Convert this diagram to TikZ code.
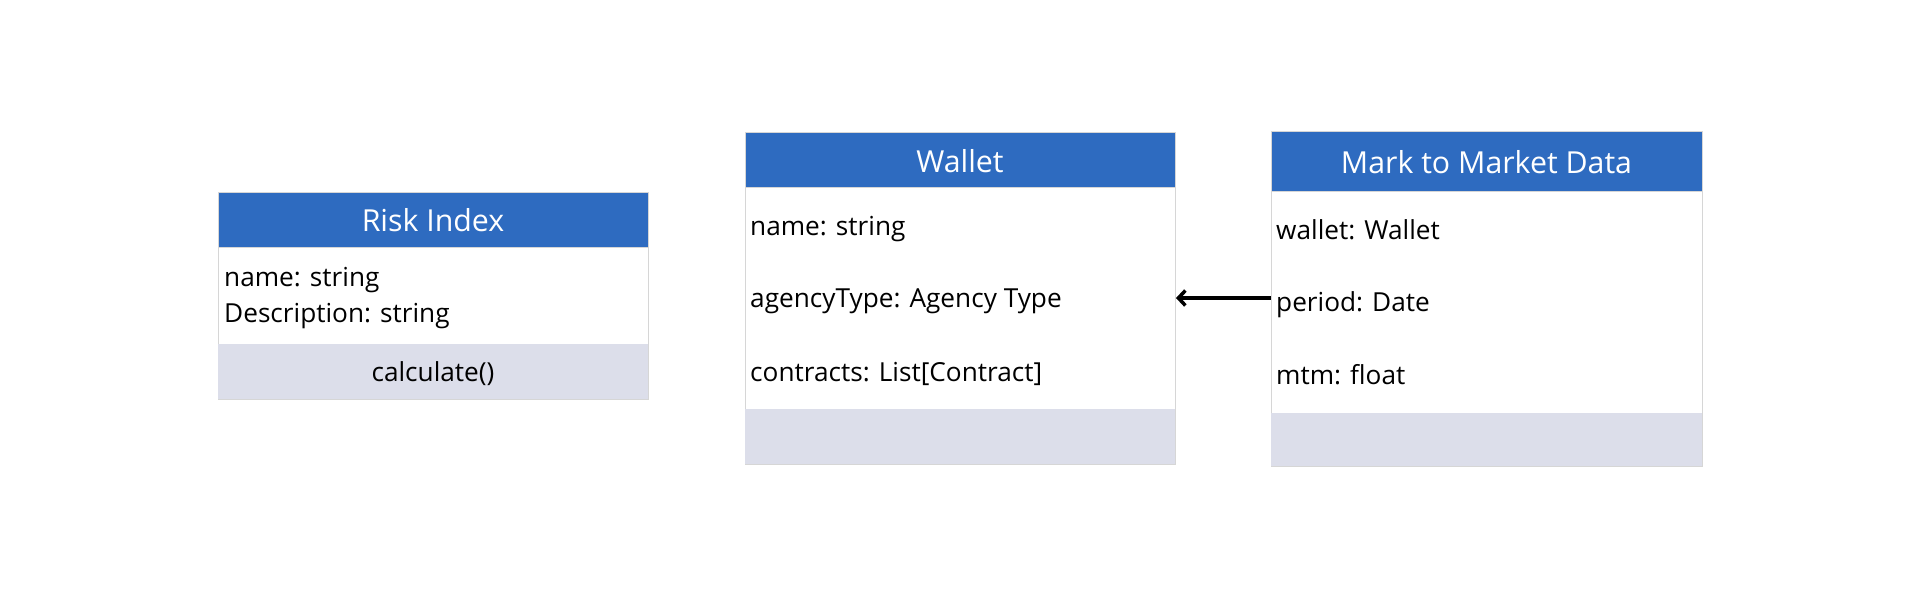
\documentclass[tikz,border=0pt]{standalone}
\usepackage{fontspec}
\setmainfont{Open Sans}
\usetikzlibrary{arrows.meta,positioning}
\definecolor{hdr}{HTML}{2E6BC0}
\definecolor{ftr}{HTML}{DCDEEA}
\definecolor{brd}{HTML}{D6D6D6}
\tikzset{
  hdrbox/.style={fill=hdr, draw=brd, line width=1pt, inner sep=0pt, anchor=north west},
  bodybox/.style={fill=white, draw=brd, line width=1pt, inner sep=0pt, anchor=north west},
  ftrbox/.style={fill=ftr, draw=none, inner sep=0pt, anchor=north west},
  attr/.style={anchor=base west, inner sep=0pt, font=\fontsize{26.2}{31}\selectfont},
  oper/.style={anchor=base, inner sep=0pt, font=\fontsize{26.2}{31}\selectfont},
  title/.style={anchor=base, inner sep=0pt, text=white, font=\fontsize{30.3}{36}\selectfont},
  assoc/.style={-{Straight Barb[length=7pt,width=15pt,line width=3.5pt]}, line width=3.5pt, black}
}
\begin{document}
\begin{tikzpicture}[x=1pt,y=-1pt]
\useasboundingbox[fill=white] (0,0) rectangle (1920,600);
% Risk Index
\node[bodybox, minimum width=430pt, minimum height=152pt] (rib) at (218,247) {};
\node[ftrbox, minimum width=430pt, minimum height=55pt] (rif) at (218,344) {};
\node[hdrbox, minimum width=430pt, minimum height=55pt] (rih) at (218,192) {};
\node[title] (rit) at (433,231.5) {Risk Index};
\node[attr] (ri1) at (224,286) {name: string};
\node[attr] (ri2) at (224,322.5) {Description: string};
\node[oper] (ri3) at (433,381.5) {calculate()};
% Wallet
\node[bodybox, minimum width=430pt, minimum height=277pt] (wb) at (745,187) {};
\node[ftrbox, minimum width=430pt, minimum height=55pt] (wf) at (745,409) {};
\node[hdrbox, minimum width=430pt, minimum height=55pt] (wh) at (745,132) {};
\node[title] (wt) at (960,172.5) {Wallet};
\node[attr] (w1) at (750,235) {name: string};
\node[attr] (w2) at (750,307.5) {agencyType: Agency Type};
\node[attr] (w3) at (750,381.5) {contracts: List[Contract]};
% Mark to Market Data
\node[bodybox, minimum width=431pt, minimum height=275pt] (mb) at (1271,191) {};
\node[ftrbox, minimum width=431pt, minimum height=53pt] (mf) at (1271,413) {};
\node[hdrbox, minimum width=431pt, minimum height=60pt] (mh) at (1271,131) {};
\node[title] (mt) at (1486.5,173.5) {Mark to Market Data};
\node[attr] (m1) at (1276,239) {wallet: Wallet};
\node[attr] (m2) at (1276,311.5) {period: Date};
\node[attr] (m3) at (1276,384) {mtm: float};
% association
\coordinate (as) at (mb.west |- 0,298);
\coordinate (ae) at (wb.east |- 0,298);
\draw[assoc] (as) -- (ae);
\end{tikzpicture}
\end{document}
